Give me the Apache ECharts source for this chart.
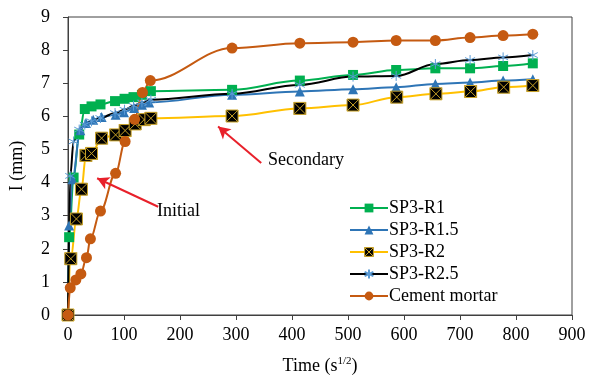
<!DOCTYPE html>
<html>
<head>
<meta charset="utf-8">
<script src="https://cdn.jsdelivr.net/npm/echarts@6/dist/echarts.min.js"></script>
<style>html,body{margin:0;padding:0;background:#fff}#c{width:589px;height:381px}</style>
</head>
<body>
<div id="c"></div>
<script>
// ---- data ----
var xTicks = [0, 100, 200, 300, 400, 500, 600, 700, 800, 900];
var yTicks = [0, 1, 2, 3, 4, 5, 6, 7, 8, 9];

var tR1   = [0, 2, 10, 20, 30, 42, 58, 84, 101, 117, 132, 148, 293, 414, 509, 586, 656, 718, 777, 830];
var vR1   = [0, 2.35, 4.15, 5.45, 6.22, 6.3, 6.36, 6.46, 6.53, 6.58, 6.65, 6.76, 6.8, 7.08, 7.25, 7.4, 7.45, 7.45, 7.52, 7.6];

var tR15  = [0, 2, 8, 22, 32, 45, 60, 85, 100, 118, 132, 145, 293, 414, 509, 586, 656, 718, 777, 830];
var vR15  = [0, 2.7, 4.1, 5.58, 5.8, 5.9, 5.98, 6.05, 6.12, 6.25, 6.35, 6.42, 6.65, 6.75, 6.82, 6.88, 6.98, 7.02, 7.08, 7.12];

var tR2   = [0, 5, 15, 24, 32, 42, 60, 85, 102, 120, 136, 148, 293, 414, 509, 587, 657, 719, 778, 830];
var vR2   = [0, 1.7, 2.9, 3.8, 4.82, 4.88, 5.34, 5.44, 5.57, 5.77, 5.9, 5.94, 6.01, 6.24, 6.34, 6.58, 6.68, 6.75, 6.88, 6.93];

var tR25  = [0, 4, 10, 20, 30, 42, 58, 84, 101, 117, 132, 148, 293, 414, 509, 586, 656, 718, 777, 830];
var vR25  = [0, 4.2, 5.24, 5.6, 5.75, 5.85, 5.95, 6.1, 6.2, 6.32, 6.42, 6.5, 6.68, 6.95, 7.2, 7.22, 7.58, 7.7, 7.78, 7.85];

var tCem  = [0, 4, 14, 23, 33, 40, 58, 85, 102, 119, 133, 147, 293, 414, 509, 586, 656, 718, 777, 830];
var vCem  = [0, 0.82, 1.06, 1.24, 1.73, 2.3, 3.14, 4.28, 5.24, 5.91, 6.72, 7.08, 8.06, 8.21, 8.24, 8.29, 8.29, 8.38, 8.44, 8.48];

var seriesNames = ['SP3-R1', 'SP3-R1.5', 'SP3-R2', 'SP3-R2.5', 'Cement mortar'];

// annotation arrows in data coords: [tailX, tailY, headX, headY]
var arrowSecondary = [345, 4.59, 268, 5.69];
var arrowInitial   = [161, 3.27, 52, 4.13];

function pairs(t, v) { return t.map(function (x, i) { return [x, v[i]]; }); }

var FONT = '"Liberation Serif", "Times New Roman", serif';
var SQX = 'path://M0,0L10,0L10,10L0,10Z M0,0L10,10 M10,0L0,10';
var STAR = 'path://M5,0L5,10 M0,2.5L10,7.5 M10,2.5L0,7.5';

function arrowLine(a) {
  return [{ coord: [a[0], a[1]] }, { coord: [a[2], a[3]] }];
}

var chart = echarts.init(document.getElementById('c'));
var smooth = 0.35;
chart.setOption({
  animation: false,
  textStyle: { fontFamily: FONT, color: '#000' },
  grid: { left: 66, right: 17, top: 17, bottom: 66, show: true, borderColor: '#404040', borderWidth: 1 },
  xAxis: {
    type: 'value', min: xTicks[0], max: xTicks[xTicks.length - 1], interval: 100,
    name: 'Time (s{sup|1/2})', nameLocation: 'middle', nameGap: 41,
    nameTextStyle: { fontFamily: FONT, fontSize: 18, color: '#000',
      rich: { sup: { fontFamily: FONT, fontSize: 11, color: '#000', padding: [0, 0, 9, 0] } } },
    axisLine: { lineStyle: { color: '#404040', width: 1 } },
    axisTick: { show: true, length: 5, lineStyle: { color: '#404040' } },
    axisLabel: { fontFamily: FONT, fontSize: 18, color: '#000', margin: 11 },
    splitLine: { show: false }
  },
  yAxis: {
    type: 'value', min: yTicks[0], max: yTicks[yTicks.length - 1], interval: 1,
    name: 'I (mm)', nameLocation: 'middle', nameGap: 42,
    nameTextStyle: { fontFamily: FONT, fontSize: 18, color: '#000' },
    axisLine: { show: true, lineStyle: { color: '#404040', width: 1 } },
    axisTick: { show: true, length: 5, lineStyle: { color: '#404040' } },
    axisLabel: { fontFamily: FONT, fontSize: 18, color: '#000', margin: 18 },
    splitLine: { show: false }
  },
  legend: {
    orient: 'vertical', left: 344, top: 194, itemWidth: 38, itemHeight: 11, itemGap: 4,
    data: [
      { name: seriesNames[0] },
      { name: seriesNames[1] },
      { name: seriesNames[2], itemStyle: { color: '#000', borderColor: '#C9A227', borderWidth: 1 } },
      { name: seriesNames[3] },
      { name: seriesNames[4] }
    ],
    textStyle: { fontFamily: FONT, fontSize: 18, color: '#000', padding: [0, 0, 0, -4] }
  },
  series: [
    { name: seriesNames[0], type: 'line', data: pairs(tR1, vR1), smooth: smooth, smoothMonotone: 'x',
      symbol: 'rect', symbolSize: 10,
      lineStyle: { color: '#00B050', width: 2 }, itemStyle: { color: '#00B050' } },
    { name: seriesNames[1], type: 'line', data: pairs(tR15, vR15), smooth: smooth, smoothMonotone: 'x',
      symbol: 'triangle', symbolSize: 10,
      lineStyle: { color: '#2E75B6', width: 2 }, itemStyle: { color: '#2E75B6' } },
    { name: seriesNames[2], type: 'line', data: pairs(tR2, vR2), smooth: smooth, smoothMonotone: 'x',
      symbol: SQX, symbolSize: 12, symbolKeepAspect: true,
      lineStyle: { color: '#FFC000', width: 2 },
      itemStyle: { color: '#000', borderColor: '#C9A227', borderWidth: 1 } },
    { name: seriesNames[3], type: 'line', data: pairs(tR25, vR25), smooth: smooth, smoothMonotone: 'x',
      symbol: STAR, symbolSize: 10, symbolKeepAspect: true,
      lineStyle: { color: '#000', width: 2 },
      itemStyle: { color: '#5B9BD5', borderColor: '#5B9BD5', borderWidth: 1 } },
    { name: seriesNames[4], type: 'line', data: pairs(tCem, vCem), smooth: smooth, smoothMonotone: 'x',
      symbol: 'circle', symbolSize: 11,
      lineStyle: { color: '#C55A11', width: 2 }, itemStyle: { color: '#C55A11' },
      markLine: {
        silent: true, symbol: ['none', 'arrow'], symbolSize: [10, 12],
        label: { show: false },
        lineStyle: { color: '#E8202A', width: 2, type: 'solid' },
        data: [arrowLine(arrowSecondary), arrowLine(arrowInitial)]
      } }
  ],
  graphic: [
    { type: 'text', left: 268, top: 151, style: { text: 'Secondary', font: '18px ' + FONT, fill: '#000' } },
    { type: 'text', left: 157, top: 202, style: { text: 'Initial', font: '18px ' + FONT, fill: '#000' } }
  ]
});
</script>
</body>
</html>
